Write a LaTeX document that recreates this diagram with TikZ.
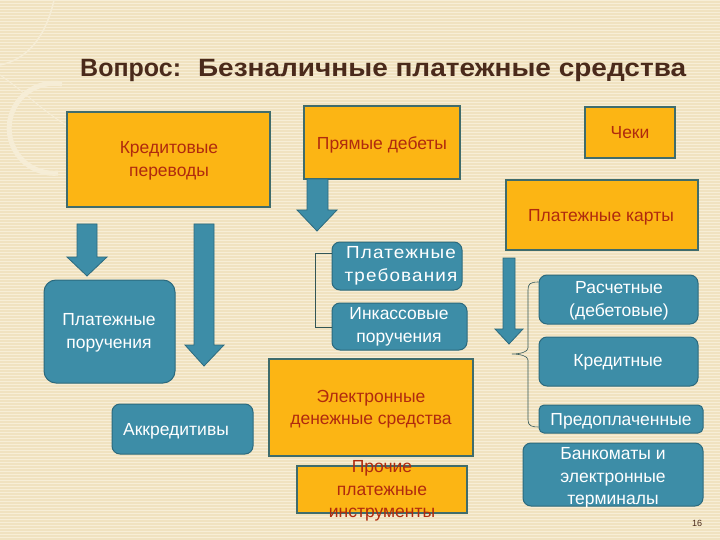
\documentclass[tikz,border=0pt]{standalone}
\usepackage{fontspec}
\setmainfont{Liberation Sans}
\definecolor{bgbeige}{HTML}{F0E2C0}
\definecolor{bgstripe}{HTML}{F7EED7}
\definecolor{deco}{HTML}{F6EDD6}
\definecolor{orangefill}{HTML}{FCB514}
\definecolor{orangeline}{HTML}{3F6C6C}
\definecolor{orangetext}{HTML}{B02A0E}
\definecolor{tealfill}{HTML}{3D8DA7}
\definecolor{tealline}{HTML}{2C6A7E}
\definecolor{titlecol}{HTML}{4A2A1B}
\tikzset{
  obox/.style={draw=orangeline, line width=1.8pt, fill=orangefill, inner sep=0pt},
  tbox/.style={draw=tealline, line width=1pt, fill=tealfill, rounded corners=8pt, inner sep=0pt},
  otext/.style={text=orangetext, align=center, font=\fontsize{17.5}{22.5}\selectfont, inner sep=0pt},
  ttext/.style={text=white, align=center, font=\fontsize{17.5}{22.5}\selectfont, inner sep=0pt},
  blockarrow/.style={fill=tealfill, draw=tealline, line width=0.8pt, line join=miter},
  bracket/.style={draw=orangeline!80!black, line width=0.6pt}
}
\begin{document}
\begin{tikzpicture}[x=1pt,y=-1pt]
\useasboundingbox (0,0) rectangle (720,540);
% background
\fill[bgbeige] (0,0) rectangle (720,540);
\foreach \yy in {0,3,...,540} \fill[bgstripe] (0,\yy) rectangle (720,\yy+1);
% decorative arcs
\draw[deco, line width=1.5pt] (54,0) .. controls (45,40) and (25,60) .. (0,65);
\draw[deco, line width=5pt] (62,84) arc[start angle=-80, end angle=-275, radius=45];
\draw[deco, line width=1pt] (0,75) .. controls (30,95) and (60,130) .. (100,140);
% title
\node[anchor=base west, inner sep=0pt, text=titlecol, font=\bfseries\fontsize{25}{30}\selectfont] (title) at (80,77) {Вопрос:\hspace{17pt}\scalebox{1.12}[1]{Безналичные платежные средства}};
% orange boxes
\node[obox, minimum width=203, minimum height=95] (kp) at (168.5,159.5) {};
\node[otext] at (169,161) {Кредитовые\\переводы};
\node[obox, minimum width=156, minimum height=73] (pd) at (382,142.5) {};
\node[otext] at (382,145) {Прямые дебеты};
\node[obox, minimum width=90, minimum height=51] (ch) at (630,132.5) {};
\node[otext] at (630,133) {Чеки};
\node[obox, minimum width=192, minimum height=70] (pk) at (602,215) {};
\node[otext] at (601,217) {Платежные карты};
\node[obox, minimum width=204, minimum height=97] (eds) at (371,407.5) {};
\node[otext] at (371,409) {Электронные\\денежные средства};
\node[obox, minimum width=170, minimum height=47] (pr) at (382,489.5) {};
\node[otext] at (382,491) {Прочие\\платежные\\инструменты};
% teal boxes
\node[tbox, rounded corners=12pt, minimum width=131, minimum height=103] (pp) at (109.5,331.5) {};
\node[ttext] at (109,333) {Платежные\\поручения};
\node[tbox, minimum width=141, minimum height=50] (ak) at (182.5,429) {};
\node[ttext] at (176,431) {Аккредитивы};
\node[tbox, minimum width=130, minimum height=48] (pt) at (397,266) {};
\node[ttext, font=\fontsize{17.5}{22.5}\selectfont\addfontfeatures{LetterSpace=6}] at (401,266) {\scalebox{1.08}[1]{Платежные}\\\scalebox{1.08}[1]{требования}};
\node[tbox, minimum width=135, minimum height=47] (ip) at (399.5,326.5) {};
\node[ttext] at (399,327) {Инкассовые\\поручения};
\node[tbox, minimum width=159, minimum height=49] (rd) at (618.5,299.5) {};
\node[ttext] at (619,301) {Расчетные\\(дебетовые)};
\node[tbox, minimum width=159, minimum height=49] (kr) at (618.5,361.5) {};
\node[ttext] at (618,362) {Кредитные};
\node[tbox, rounded corners=5pt, minimum width=164, minimum height=28] (po) at (621,419) {};
\node[ttext] at (621,421) {Предоплаченные};
\node[tbox, minimum width=180, minimum height=63] (bk) at (613,474.5) {};
\node[ttext] at (613,478) {Банкоматы и\\электронные\\терминалы};
% block arrows
\draw[blockarrow] (77,224) -- (97,224) -- (97,257) -- (107,257) -- (87,276) -- (67,257) -- (77,257) -- cycle;
\draw[blockarrow] (194,224) -- (214,224) -- (214,345) -- (224,345) -- (204,366) -- (185,345) -- (194,345) -- cycle;
\draw[blockarrow] (307,179) -- (328,179) -- (328,210) -- (337,210) -- (317,231) -- (297,210) -- (307,210) -- cycle;
\draw[blockarrow] (503,258) -- (515,258) -- (515,329) -- (523,329) -- (509,344) -- (495,329) -- (503,329) -- cycle;
% brackets
\coordinate (b1) at (315,253);
\coordinate (b2) at (315,327);
\draw[bracket] (pt.west |- b1) -- (b1) -- (b2) -- (ip.west |- b2);
\coordinate (c1) at (528,290);
\coordinate (c2) at (528,420);
\coordinate (cm) at (512,354);
\draw[bracket] (rd.west |- 0,282) .. controls (530,282) and (528,284) .. (c1) -- (528,348) .. controls (528,352) and (520,354) .. (cm)
  .. controls (520,354) and (528,356) .. (528,360) -- (c2) .. controls (528,426) and (532,427) .. (po.west |- 0,427);
% page number
\node[text=titlecol, font=\fontsize{9}{10}\selectfont, inner sep=0pt] (pn) at (697,523) {16};
\end{tikzpicture}
\end{document}
